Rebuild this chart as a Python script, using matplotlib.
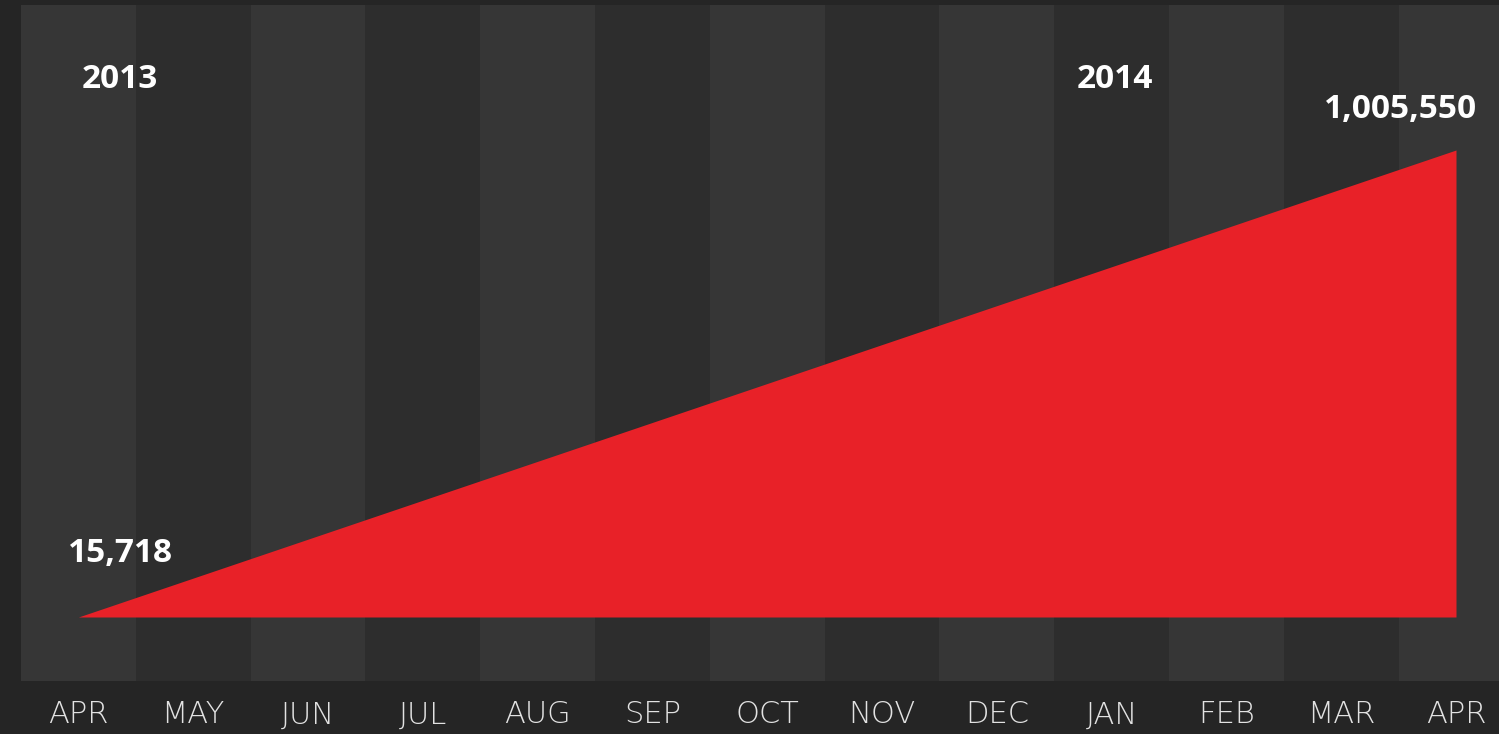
import matplotlib
matplotlib.use("Agg")
import matplotlib.pyplot as plt

# ---- data ----
months = ["APR", "MAY", "JUN", "JUL", "AUG", "SEP", "OCT", "NOV", "DEC", "JAN", "FEB", "MAR", "APR"]
month_idx = list(range(len(months)))
series_x = [0, 12]
series_vals = [15718, 1005550]
value_labels = ["15,718", "1,005,550"]
year_labels = ["2013", "2014"]
year_idx = [0, 9]

# ---- style ----
BG = "#252525"
STRIPE_LIGHT = "#363636"
STRIPE_DARK = "#2d2d2d"
RED = "#e82128"
MONTH_COL = "#e2e2e2"

W, H = 1499, 734
fig = plt.figure(figsize=(W / 100, H / 100), dpi=100, facecolor=BG)
ax = fig.add_axes([21 / W, (H - 681) / H, (W - 21) / W, (681 - 5) / H])
ax.set_facecolor(BG)

for i in month_idx:
    ax.axvspan(i - 0.5, i + 0.5, color=STRIPE_LIGHT if i % 2 == 0 else STRIPE_DARK, lw=0, zorder=0)

ax.fill_between(series_x, series_vals, series_vals[0], color=RED, lw=0, zorder=2)

unit = 114.8
ax.set_xlim(-0.5, -0.5 + (W - 21) / unit)
px_per_val = (617 - 150) / (series_vals[1] - series_vals[0])
ax.set_ylim(series_vals[0] - (681 - 617) / px_per_val, series_vals[1] + (150 - 5) / px_per_val)

for s in ax.spines.values():
    s.set_visible(False)
ax.set_yticks([])
ax.set_xticks(month_idx)
ax.set_xticklabels(months, fontsize=22, color=MONTH_COL, family=["DejaVu Sans"], fontweight=200)
ax.tick_params(axis="x", length=0, pad=14)

bold = dict(fontsize=24, color="white", fontweight="bold", family=["Open Sans", "DejaVu Sans"], ha="center", va="center", zorder=5)
# year labels
for yl, yi, dx in zip(year_labels, year_idx, [41, 3]):
    ax.annotate(yl, xy=(yi, 1), xycoords=("data", "axes fraction"), xytext=(dx, -74), textcoords="offset pixels", **bold)
# value labels
ax.annotate(value_labels[0], xy=(series_x[0], series_vals[0]), xytext=(42, 63), textcoords="offset pixels", **bold)
ax.annotate(value_labels[1], xy=(series_x[1], series_vals[1]), xytext=(-55, 40), textcoords="offset pixels", **bold)

fig.savefig("out.png", dpi=100, facecolor=BG)
